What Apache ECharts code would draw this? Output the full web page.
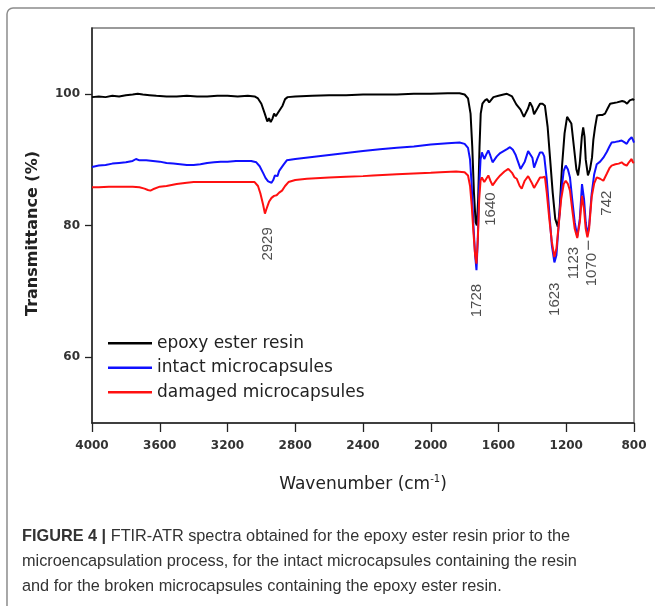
<!DOCTYPE html>
<html>
<head>
<meta charset="utf-8">
<script src="https://cdn.jsdelivr.net/npm/echarts@6.0.0/dist/echarts.min.js"></script>
<style>
  html, body { margin: 0; padding: 0; background: #fff; }
  #main { width: 655px; height: 606px; }
</style>
</head>
<body>
<div id="main"></div>
<script>
// wavenumber (cm-1) / transmittance (%)
const epoxyWn = [4000, 3960, 3920, 3880, 3840, 3800, 3760, 3730, 3700, 3660, 3620, 3560, 3500, 3440, 3380, 3320, 3260, 3200, 3140, 3080, 3040,
  3020, 3000, 2980, 2965, 2955, 2945, 2935, 2925, 2915, 2900, 2890, 2875, 2860, 2845, 2800, 2700, 2600, 2500, 2400, 2300, 2200, 2100, 2000,
  1900, 1830, 1800, 1780, 1765, 1755, 1745, 1735, 1728, 1720, 1712, 1705, 1695, 1680, 1668, 1655, 1645, 1630, 1600, 1570, 1550, 1520, 1495,
  1470, 1450, 1440, 1425, 1414, 1400, 1390, 1384, 1370, 1355, 1340, 1326, 1310, 1295, 1280, 1265, 1250, 1240, 1225, 1210, 1195, 1185, 1170,
  1155, 1140, 1130, 1120, 1108, 1100, 1092, 1085, 1072, 1060, 1048, 1040, 1030, 1018, 1000, 985, 971, 955, 941, 920, 900, 870, 855, 841, 825, 806, 800];
const epoxyT = [99.5, 99.6, 99.5, 99.7, 99.6, 99.8, 99.9, 100.0, 99.9, 99.8, 99.7, 99.6, 99.6, 99.7, 99.6, 99.6, 99.7, 99.7, 99.6, 99.7, 99.6,
  99.3, 98.5, 97.0, 95.8, 96.3, 95.7, 96.2, 97.0, 96.6, 97.2, 97.3, 98.2, 99.2, 99.5, 99.6, 99.7, 99.8, 99.8, 99.9, 99.9, 99.9, 100.0, 100.0,
  100.1, 100.1, 99.9, 99.3, 97, 92, 85, 80.5, 80, 84, 92, 97, 98.5, 99.0, 99.2, 98.7, 98.9, 99.5, 99.7, 99.9, 100.0, 99.6, 98.4,
  97.6, 96.5, 96.4, 97.8, 98.7, 98.0, 96.9, 96.7, 97.8, 98.5, 98.5, 98.2, 95, 90, 85, 81, 79.8, 82, 89, 94, 96.5, 96.7, 95.5,
  92, 88.5, 87.6, 89.5, 93.5, 94.9, 93.5, 90, 87.6, 88.5, 90.3, 93, 94.9, 96.7, 96.8, 96.8, 97, 97.8, 98.5, 98.6, 98.7, 98.9, 98.8, 98.5, 99.0, 99.2, 99.0];

const intactWn = [4000, 3960, 3920, 3880, 3840, 3800, 3760, 3740, 3720, 3680, 3640, 3600, 3560, 3520, 3480, 3440, 3400, 3360, 3320, 3280, 3240,
  3200, 3150, 3100, 3060, 3030, 3010, 2990, 2975, 2960, 2950, 2940, 2930, 2920, 2905, 2895, 2885, 2870, 2850, 2800, 2700, 2600, 2500, 2400,
  2300, 2200, 2100, 2000, 1900, 1830, 1800, 1780, 1768, 1758, 1748, 1738, 1730, 1722, 1714, 1706, 1698, 1684, 1672, 1660, 1648, 1635, 1625,
  1610, 1590, 1570, 1550, 1532, 1515, 1500, 1485, 1470, 1463, 1445, 1425, 1414, 1400, 1390, 1384, 1370, 1355, 1341, 1330, 1315, 1300, 1285,
  1270, 1258, 1245, 1230, 1215, 1203, 1190, 1178, 1165, 1150, 1135, 1129, 1120, 1107, 1095, 1085, 1075, 1065, 1050, 1035, 1020, 1000, 981,
  960, 945, 932, 910, 890, 873, 860, 843, 830, 814, 806, 800];
const intactT = [88.9, 89.1, 89.2, 89.4, 89.5, 89.6, 89.8, 90.1, 89.9, 89.9, 89.8, 89.7, 89.5, 89.4, 89.3, 89.2, 89.2, 89.3, 89.5, 89.6, 89.7,
  89.7, 89.8, 89.8, 89.8, 89.6, 89.0, 88.0, 87.2, 86.7, 86.9, 86.5, 86.9, 87.6, 87.5, 88.3, 88.1, 89.2, 89.9, 90.1, 90.4, 90.7, 91.0, 91.3,
  91.6, 91.8, 92.0, 92.3, 92.5, 92.6, 92.4, 91.8, 90, 86, 80, 75.5, 73.2, 78, 86, 90.0, 91.1, 90.1, 90.8, 91.4, 90.6, 89.6, 89.6,
  90.5, 91.0, 91.3, 91.6, 91.9, 91.5, 90.8, 89.7, 88.6, 88.3, 89.7, 91.3, 91.6, 90.3, 88.8, 88.6, 90.2, 91.1, 91.1, 90.5, 87, 82, 77,
  74.4, 75.5, 80, 85, 88.3, 89.1, 88.5, 87.3, 84, 80.5, 78.3, 78.2, 81, 86.3, 84, 80.5, 78.5, 80, 84.8, 87.8, 89.3, 89.7, 90.3,
  91.2, 92.0, 92.6, 92.7, 92.8, 92.9, 92.7, 92.4, 93.0, 93.4, 93.0, 92.6];

const damagedWn = [4000, 3960, 3900, 3850, 3800, 3760, 3720, 3690, 3670, 3655, 3640, 3600, 3560, 3500, 3440, 3400, 3300, 3200, 3100, 3040,
  3020, 3005, 2990, 2979, 2970, 2955, 2940, 2925, 2910, 2895, 2878, 2860, 2840, 2800, 2731, 2600, 2500, 2400, 2341, 2200, 2100, 2000, 1945,
  1850, 1800, 1780, 1768, 1758, 1748, 1738, 1730, 1722, 1714, 1706, 1698, 1684, 1672, 1660, 1648, 1635, 1625, 1610, 1590, 1565, 1542, 1520,
  1505, 1492, 1475, 1463, 1445, 1425, 1414, 1400, 1390, 1384, 1370, 1355, 1341, 1326, 1315, 1300, 1285, 1270, 1258, 1245, 1230, 1215, 1203,
  1190, 1178, 1165, 1150, 1135, 1129, 1120, 1107, 1095, 1085, 1075, 1065, 1050, 1035, 1020, 1000, 981, 960, 945, 932, 910, 890, 873, 860,
  843, 830, 814, 806, 800];
const damagedT = [85.8, 85.8, 85.9, 85.9, 85.9, 85.9, 85.8, 85.6, 85.4, 85.3, 85.5, 85.9, 86.0, 86.3, 86.5, 86.6, 86.6, 86.6, 86.6, 86.6,
  86.0, 84.8, 83.2, 81.8, 82.5, 83.6, 84.2, 84.5, 84.6, 85.0, 85.3, 86.0, 86.6, 86.9, 87.1, 87.3, 87.4, 87.5, 87.6, 87.8, 87.9, 88.0, 88.1,
  88.2, 88.1, 87.6, 86, 83, 79, 75.5, 74.2, 78, 84, 86.8, 87.3, 86.6, 87.1, 87.6, 86.8, 86.1, 86.1, 87.0, 87.6, 88.2, 88.6, 88.0,
  87.3, 87.1, 86.0, 85.6, 86.8, 87.5, 87.6, 86.3, 85.7, 85.6, 86.6, 87.3, 87.3, 87.4, 85, 81, 77.5, 75.2, 76.5, 80, 84, 86.3, 86.8,
  86.3, 85.3, 82.5, 79.5, 78.1, 78.0, 80.5, 84.5, 82.5, 79.5, 78.2, 79.5, 84.3, 86.4, 87.3, 87.1, 86.8, 87.9, 88.7, 89.1, 89.3, 89.4, 89.6, 89.3,
  89.1, 89.6, 90.1, 89.6, 89.5];

// peak annotations (text as printed, placed where they sit on the plot)
const peakNames = ['2929', '1728', '1640', '1623', '1123', '1070', '742'];
const peakWn = [2959, 1729, 1646, 1266, 1158, 1050, 961];
const peakT = [77.2, 68.6, 82.5, 68.8, 74.3, 73.3, 83.4];
const leaderWn = [1070, 1070];
const leaderT = [77.7, 76.3];

const seriesNames = ['epoxy ester resin', 'intact microcapsules', 'damaged microcapsules'];
const seriesColors = ['#000000', '#1010ff', '#ff1010'];
const yTicks = [60, 80, 100];

const captionLines = [
  '{b|FIGURE 4 |} FTIR-ATR spectra obtained for the epoxy ester resin prior to the',
  'microencapsulation process, for the intact microcapsules containing the resin',
  'and for the broken microcapsules containing the epoxy ester resin.'
];

const zip = (a, b) => a.map((v, i) => [v, b[i]]);
const spectra = [zip(epoxyWn, epoxyT), zip(intactWn, intactT), zip(damagedWn, damagedT)];

const chart = echarts.init(document.getElementById('main'), null, { renderer: 'canvas' });

const tickFont = { fontFamily: 'DejaVu Sans', fontSize: 12, fontWeight: 'bold', color: '#333' };

const option = {
  backgroundColor: '#fff',
  animation: false,
  grid: {
    left: 92, right: 21, top: 28, bottom: 183,
    show: true, borderColor: '#7a7a7a', borderWidth: 1.5
  },
  legend: {
    data: seriesNames,
    orient: 'vertical',
    left: 108, top: 331,
    padding: 0,
    itemGap: 0,
    icon: 'rect',
    itemWidth: 44, itemHeight: 2.5,
    textStyle: { fontFamily: 'DejaVu Sans', fontSize: 17, color: '#222', lineHeight: 24.5 }
  },
  xAxis: {
    type: 'value',
    inverse: true,
    min: 800, max: 4000, interval: 400,
    name: 'Wavenumber (cm{sup|-1})',
    nameLocation: 'middle',
    nameGap: 51,
    nameTextStyle: {
      fontFamily: 'DejaVu Sans', fontSize: 17, color: '#222', lineHeight: 22,
      rich: { sup: { fontFamily: 'DejaVu Sans', fontSize: 10, color: '#222', verticalAlign: 'top', lineHeight: 10 } }
    },
    axisLine: { lineStyle: { color: '#222', width: 1.5 } },
    axisTick: { length: 9, lineStyle: { color: '#222', width: 1.3 } },
    axisLabel: Object.assign({ margin: 17, showMinLabel: true, showMaxLabel: true, formatter: v => String(v) }, tickFont),
    splitLine: { show: false }
  },
  yAxis: {
    type: 'value',
    min: 50, max: 110,
    axisLine: { show: true, lineStyle: { color: '#222', width: 1.5 } },
    axisTick: { show: true, length: 7, customValues: yTicks, lineStyle: { color: '#222', width: 1.3 } },
    axisLabel: Object.assign({ margin: 12, customValues: yTicks, formatter: v => String(v) }, tickFont),
    splitLine: { show: false }
  },
  series: seriesNames.map((name, i) => ({
    name: name,
    type: 'line',
    data: spectra[i],
    showSymbol: false,
    symbol: 'none',
    color: seriesColors[i],
    lineStyle: { color: seriesColors[i], width: 2 },
    z: 2 + i
  })).concat([
    {
      name: 'peaks',
      type: 'scatter',
      symbolSize: 0,
      silent: true,
      data: peakNames.map((n, i) => ({ name: n, value: [peakWn[i], peakT[i]] })),
      label: {
        show: true,
        position: 'inside',
        rotate: 90,
        formatter: '{b}',
        fontFamily: 'Liberation Sans, Arial',
        fontSize: 15,
        color: '#222'
      },
      z: 6
    },
    {
      name: 'leader',
      type: 'line',
      silent: true,
      showSymbol: false,
      symbol: 'none',
      data: zip(leaderWn, leaderT),
      lineStyle: { color: '#333', width: 1 },
      z: 6
    }
  ]),
  graphic: [
    {
      type: 'rect',
      shape: { x: 7, y: 8, width: 720, height: 720, r: 6 },
      style: { fill: 'none', stroke: '#8c8c8c', lineWidth: 1.5 },
      silent: true, z: -1
    },
    {
      type: 'text',
      x: 33, y: 233.5,
      rotation: Math.PI / 2,
      style: {
        text: 'Transmittance (%)',
        fontFamily: 'DejaVu Sans', fontSize: 16, fontWeight: 'bold',
        fill: '#222', align: 'center', verticalAlign: 'middle'
      }
    }
  ].concat(captionLines.map((line, i) => ({
    type: 'text',
    x: 22, y: 537 + i * 25,
    style: {
      text: line,
      fontFamily: 'Liberation Sans, Arial',
      fontSize: 16.3,
      fill: '#333',
      align: 'left', verticalAlign: 'middle',
      rich: { b: { fontFamily: 'Liberation Sans, Arial', fontSize: 16.3, fontWeight: 'bold', fill: '#333' } }
    }
  })))
};

chart.setOption(option);
</script>
</body>
</html>
